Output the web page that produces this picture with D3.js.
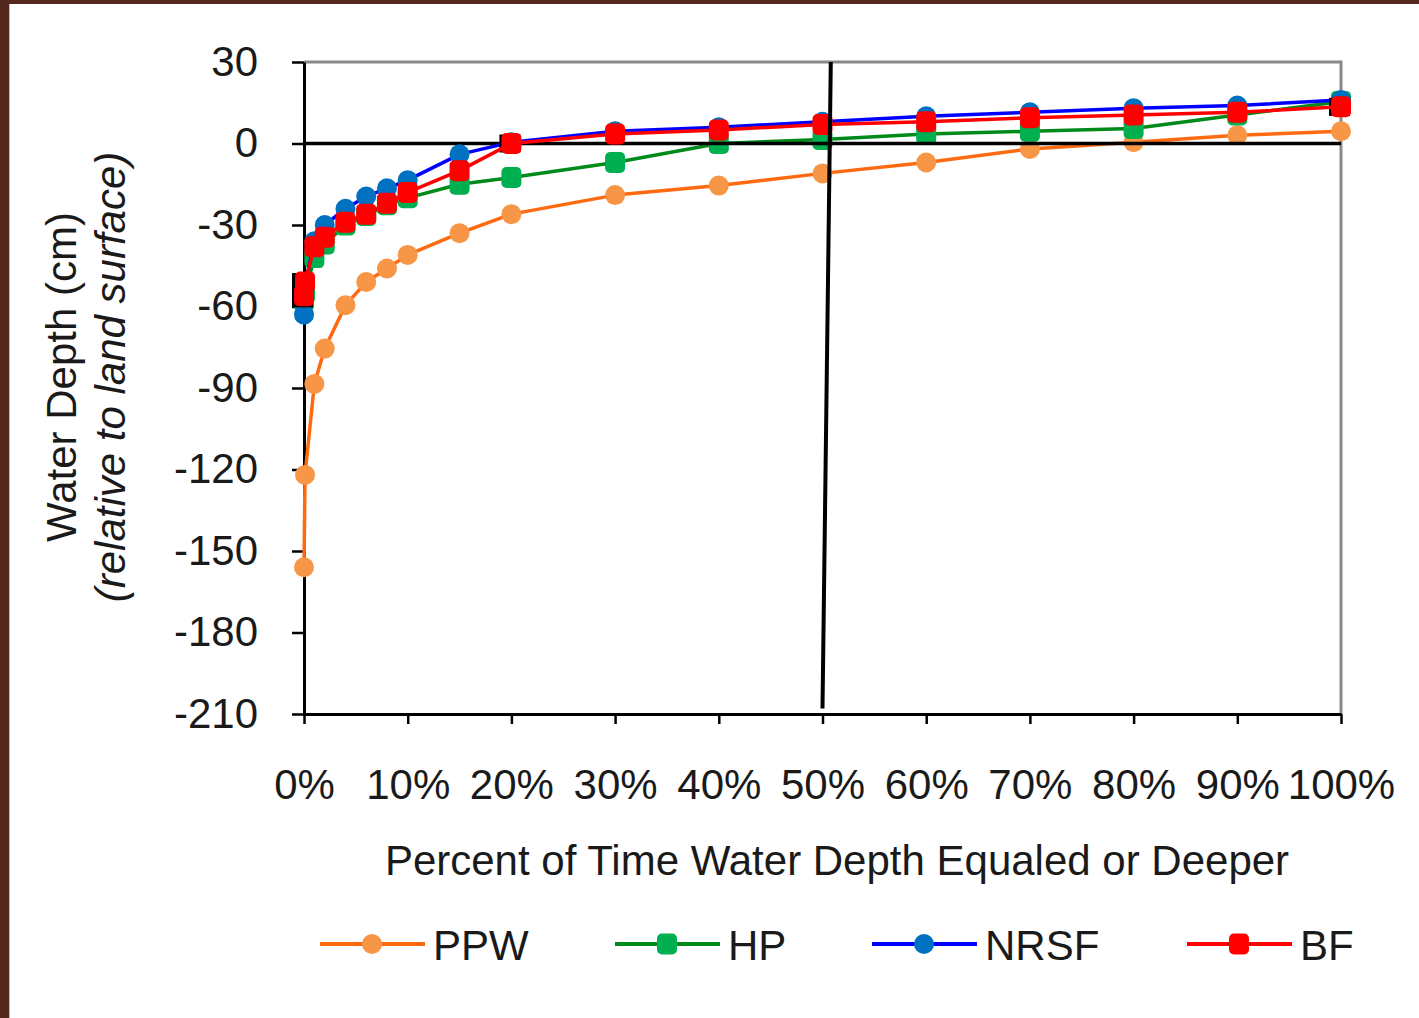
<!DOCTYPE html>
<html>
<head>
<meta charset="utf-8">
<script src="https://cdn.jsdelivr.net/npm/d3@7"></script>
<style>
  body { margin: 0; background: #fff; }
  #chart svg { display: block; }
  text { font-family: 'Liberation Sans', Arial, sans-serif; fill: #1a1a1a; }
</style>
</head>
<body>
<div id="chart"></div>
<script>
// percent of time (x) for each point, shared by all series
var pct = [0, 0.1, 1, 2, 4, 6, 8, 10, 15, 20, 30, 40, 50, 60, 70, 80, 90, 100];

// water depth (cm) per series
var ppw  = [-156, -122, -88.5, -75.5, -59.5, -51, -46, -41, -33, -26, -19, -15.5, -11, -7, -2, 0.5, 3, 4.5];
var hp   = [-58, -55, -42, -37, -30, -26.5, -22.5, -20, -15, -12.5, -7, 0, 1.5, 3.5, 4.5, 5.5, 10.5, 15.5];
var nrsf = [-63, -52, -36, -30, -24, -19.5, -16.5, -13.5, -4, 0.5, 4.5, 6, 8, 10, 11.5, 13, 14, 16];
var bf   = [-56, -51, -38, -34.5, -29, -26, -22, -18, -10, 0, 3.5, 5, 7, 8, 9.5, 10.5, 11.5, 13.5];

// stray black square markers that show behind BF
var blackPct = [0, 0, 20, 100];
var blackVal = [-51, -57, 0, 13.5];

var seriesNames = ['PPW', 'HP', 'NRSF', 'BF'];
var yTicks = [30, 0, -30, -60, -90, -120, -150, -180, -210];
var xTicks = [0, 10, 20, 30, 40, 50, 60, 70, 80, 90, 100];

(function(d3) {
  'use strict';

  var width = 1419;
  var height = 1018;

  var styles = {
    PPW:  { line: '#ff6a10', fill: '#f79646', shape: 'circle', values: ppw },
    HP:   { line: '#008a1a', fill: '#00b050', shape: 'square', values: hp },
    NRSF: { line: '#0000ff', fill: '#0070c0', shape: 'circle', values: nrsf },
    BF:   { line: '#ff0000', fill: '#ff0000', shape: 'square', values: bf }
  };

  var svg = d3.select('#chart')
    .append('svg')
    .attr('width', width)
    .attr('height', height);

  // brown frame on the left and top
  svg.append('rect').attr('x', 0).attr('y', 0).attr('width', 9).attr('height', height).attr('fill', '#55281e');
  svg.append('rect').attr('x', 9).attr('y', 0).attr('width', 1).attr('height', height).attr('fill', '#c9b4b0');
  svg.append('rect').attr('x', 0).attr('y', 0).attr('width', width).attr('height', 4).attr('fill', '#55281e');

  var x = d3.scaleLinear().domain([0, 100]).range([304, 1341]);
  var y = d3.scaleLinear().domain([-210, 30]).range([714, 62]);

  // grey frame top and right
  svg.append('path')
    .attr('d', 'M' + x(0) + ',' + y(30) + 'H' + x(100) + 'V' + y(-210))
    .attr('fill', 'none')
    .attr('stroke', '#8a8a8a')
    .attr('stroke-width', 3);

  var yAxis = d3.axisLeft(y)
    .tickValues(yTicks)
    .tickSize(12)
    .tickSizeOuter(0)
    .tickPadding(34)
    .tickFormat(function(d) { return d < 0 ? '-' + Math.abs(d) : d; });

  var xAxis = d3.axisBottom(x)
    .tickValues(xTicks)
    .tickSize(10)
    .tickSizeOuter(0)
    .tickPadding(45)
    .tickFormat(function(d) { return d + '%'; });

  var gy = svg.append('g')
    .attr('transform', 'translate(' + x(0) + ',0)')
    .call(yAxis);
  var gx = svg.append('g')
    .attr('transform', 'translate(0,' + y(-210) + ')')
    .call(xAxis);

  [gx, gy].forEach(function(g) {
    g.select('.domain').attr('stroke', '#000').attr('stroke-width', 3);
    g.selectAll('.tick line').attr('stroke', '#000').attr('stroke-width', 2.5);
    g.selectAll('.tick text')
      .attr('fill', '#1a1a1a')
      .style('font-family', "'Liberation Sans', Arial, sans-serif")
      .style('font-size', '42px');
  });

  var line = d3.line()
    .x(function(d) { return x(d[0]); })
    .y(function(d) { return y(d[1]); });

  function drawMarker(g, shape, fill, cx, cy) {
    if (shape === 'circle') {
      g.append('circle')
        .attr('cx', cx).attr('cy', cy).attr('r', 10)
        .attr('fill', fill);
    } else {
      g.append('rect')
        .attr('x', cx - 10).attr('y', cy - 10.5)
        .attr('width', 20).attr('height', 21)
        .attr('rx', 5)
        .attr('fill', fill);
    }
  }

  function drawSeries(name) {
    var s = styles[name];
    var pts = pct.map(function(p, i) { return [p, s.values[i]]; });
    var g = svg.append('g').attr('class', 'series');
    g.append('path')
      .datum(pts)
      .attr('d', line)
      .attr('fill', 'none')
      .attr('stroke', s.line)
      .attr('stroke-width', 3.5)
      .attr('stroke-linejoin', 'round');
    pts.forEach(function(p) {
      drawMarker(g, s.shape, s.fill, x(p[0]), y(p[1]));
    });
  }

  drawSeries('PPW');
  drawSeries('HP');

  // zero line
  svg.append('line')
    .attr('x1', x(0)).attr('x2', x(100))
    .attr('y1', y(0)).attr('y2', y(0))
    .attr('stroke', '#000')
    .attr('stroke-width', 3.5);

  drawSeries('NRSF');

  var gb = svg.append('g');
  blackPct.forEach(function(p, i) {
    gb.append('rect')
      .attr('x', x(p) - 12).attr('y', y(blackVal[i]) - 9)
      .attr('width', 21).attr('height', 18)
      .attr('fill', '#000');
  });

  drawSeries('BF');

  // slanted vertical marker at the 50% point
  svg.append('line')
    .attr('x1', x(50.8)).attr('y1', y(30))
    .attr('x2', x(50)).attr('y2', y(-208))
    .attr('stroke', '#000')
    .attr('stroke-width', 4);

  // axis titles
  svg.append('text')
    .attr('x', 837)
    .attr('y', 875)
    .attr('text-anchor', 'middle')
    .style('font-size', '42px')
    .text('Percent of Time Water Depth Equaled or Deeper');

  svg.append('text')
    .attr('transform', 'translate(76,377) rotate(-90)')
    .attr('text-anchor', 'middle')
    .style('font-size', '42px')
    .text('Water Depth (cm)');

  svg.append('text')
    .attr('transform', 'translate(125,377) rotate(-90)')
    .attr('text-anchor', 'middle')
    .style('font-size', '42px')
    .style('font-style', 'italic')
    .text('(relative to land surface)');

  // legend
  var legendX = [320, 615, 872, 1187];
  var legend = svg.selectAll('.legend')
    .data(seriesNames)
    .enter()
    .append('g')
    .attr('class', 'legend')
    .attr('transform', function(d, i) {
      return 'translate(' + legendX[i] + ',944)';
    });

  legend.append('line')
    .attr('x1', 0).attr('x2', 105)
    .attr('y1', 0).attr('y2', 0)
    .attr('stroke', function(d) { return styles[d].line; })
    .attr('stroke-width', 4);

  legend.each(function(d) {
    drawMarker(d3.select(this), styles[d].shape, styles[d].fill, 52, 0);
  });

  legend.append('text')
    .attr('x', 113)
    .attr('y', 16)
    .style('font-size', '42px')
    .text(function(d) { return d; });

})(window.d3);
</script>
</body>
</html>
